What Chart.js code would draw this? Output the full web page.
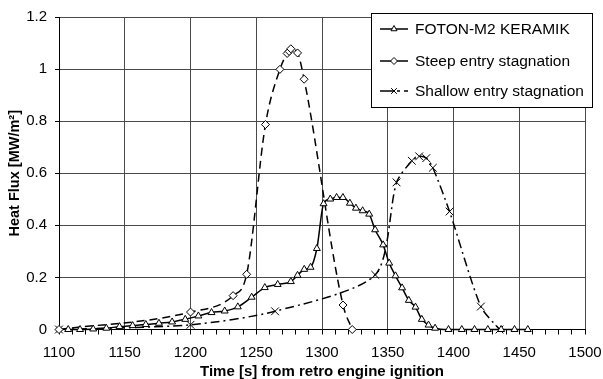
<!DOCTYPE html>
<html>
<head>
<meta charset="utf-8">
<title>Heat flux</title>
<script src="https://cdn.jsdelivr.net/npm/chart.js@4.4.1/dist/chart.umd.min.js"></script>
<style>
  html, body { margin: 0; padding: 0; background: #fff; }
  #wrap { width: 603px; height: 379px; position: relative; }
</style>
</head>
<body>
<div id="wrap"><canvas id="heatChart"></canvas></div>
<script>
// values
const seriesNames = ['FOTON-M2 KERAMIK', 'Steep entry stagnation', 'Shallow entry stagnation'];

const fotonTime = [1107, 1116, 1126, 1136, 1146, 1156, 1166, 1176, 1186, 1196,
    1206, 1216, 1226, 1236, 1246.5, 1256.5, 1266.3, 1276.3, 1281.4, 1286.5,
    1291.3, 1296.1, 1301.2, 1306.3, 1311.1, 1315.9, 1321.2, 1325.8, 1330.9, 1335.9,
    1340.4, 1346.5, 1351.1, 1355.9, 1360.9, 1366, 1371.1, 1375.9, 1381, 1386,
    1396.2, 1406.3, 1416, 1426.1, 1436.2, 1446.4, 1456.5];
const fotonFlux = [0, 0, 0.002, 0.005, 0.011, 0.015, 0.019, 0.024, 0.029, 0.039,
    0.052, 0.065, 0.071, 0.087, 0.124, 0.161, 0.173, 0.184, 0.208, 0.231,
    0.239, 0.311, 0.483, 0.501, 0.507, 0.507, 0.485, 0.466, 0.456, 0.443,
    0.383, 0.325, 0.255, 0.206, 0.16, 0.112, 0.086, 0.039, 0.017, 0.005,
    0, 0, 0, 0, 0, 0, 0];

const steepTime = [1100, 1200, 1232.4, 1242.7, 1257, 1268, 1273.5, 1275, 1276.3, 1281.4, 1286.4, 1316, 1323];
const steepFlux = [0, 0.067, 0.13, 0.212, 0.787, 0.999, 1.06, 1.068, 1.078, 1.062, 0.961, 0.094, 0];

const shallowTime = [1100, 1200, 1264.3, 1340.5, 1356.7, 1368.3, 1373.9, 1379.3, 1384.3, 1397, 1420.8, 1435];
const shallowFlux = [0, 0.018, 0.07, 0.21, 0.565, 0.648, 0.665, 0.658, 0.621, 0.453, 0.088, 0];

const xMin = 1100, xMax = 1500, xMajor = 50, xMinor = 10;
const yMin = 0, yMax = 1.2, yStep = 0.2;

const FONT = "'Liberation Sans', Arial, sans-serif";
const gridGray = '#4a4a4a';

function toPoints(xs, ys) {
    return xs.map((x, i) => ({ x: x, y: ys[i] }));
}

const markerStyles = ['triangle', 'rectRot', 'crossRot'];
const markerSizes = [4, 4, 5.5];
const dashStyles = [[], [8, 5], [9, 4, 2, 4]];

// legend drawn inside the plot, top right, like the original
const boxLegend = {
    id: 'boxLegend',
    afterDraw(chart) {
        const ctx = chart.ctx;
        const left = 371, top = 13, w = 221, h = 94;
        ctx.save();
        ctx.fillStyle = '#fff';
        ctx.fillRect(left, top, w, h);
        ctx.strokeStyle = '#000';
        ctx.lineWidth = 1;
        ctx.strokeRect(left + 0.5, top + 0.5, w, h);

        const rows = [29, 61, 91];
        seriesNames.forEach((name, i) => {
            const y = rows[i];
            ctx.strokeStyle = '#000';
            ctx.lineWidth = 1.5;
            ctx.setLineDash(i === 2 ? [13, 4, 3, 4] : []);
            ctx.beginPath();
            ctx.moveTo(380, y);
            ctx.lineTo(408, y);
            ctx.stroke();
            ctx.setLineDash([]);
            ctx.lineWidth = 1;
            ctx.fillStyle = '#fff';
            Chart.helpers.drawPoint(ctx, { pointStyle: markerStyles[i], radius: i === 2 ? 4 : 3.5, rotation: 0, borderWidth: 1 }, 394, y);
            ctx.fillStyle = '#000';
            ctx.font = '15.5px ' + FONT;
            ctx.textBaseline = 'middle';
            ctx.fillText(name, 415, y + 1);
        });
        ctx.restore();
    }
};

const pointSets = [
    toPoints(fotonTime, fotonFlux),
    toPoints(steepTime, steepFlux),
    toPoints(shallowTime, shallowFlux)
];

const config = {
    type: 'line',
    data: {
        datasets: pointSets.map((pts, i) => ({
            label: seriesNames[i],
            data: pts,
            borderColor: '#000',
            borderWidth: 1.5,
            borderDash: dashStyles[i],
            pointStyle: markerStyles[i],
            pointRadius: markerSizes[i],
            pointBorderWidth: 1,
            pointBorderColor: '#000',
            pointBackgroundColor: '#fff',
            cubicInterpolationMode: i === 2 ? 'default' : 'monotone',
            tension: 0.25,
            fill: false,
            clip: false
        }))
    },
    options: {
        responsive: true,
        maintainAspectRatio: false,
        animation: false,
        layout: { padding: { top: 17, right: 18, left: 0, bottom: 0 } },
        plugins: {
            legend: { display: false },
            tooltip: { enabled: false }
        },
        scales: {
            x: {
                type: 'linear',
                min: xMin,
                max: xMax,
                afterFit: s => {
                    s.height = 49.5;
                    s.paddingLeft = 0;
                    s.paddingRight = 0;
                },
                border: { color: '#000', width: 1 },
                grid: {
                    color: c => (c.tick && c.tick.value % xMajor === 0) ? gridGray : 'rgba(0,0,0,0)',
                    tickColor: '#000',
                    tickLength: 5
                },
                ticks: {
                    stepSize: xMinor,
                    autoSkip: false,
                    maxRotation: 0,
                    padding: 9,
                    color: '#000',
                    font: { family: FONT, size: 15 },
                    callback: v => (v % xMajor === 0 ? String(v) : '')
                },
                title: {
                    display: true,
                    text: 'Time [s] from retro engine ignition',
                    color: '#000',
                    font: { family: FONT, size: 15, weight: 'bold', lineHeight: 1 },
                    padding: { top: 0, bottom: 0 }
                }
            },
            y: {
                min: yMin,
                max: yMax,
                afterFit: s => { s.width = 59; },
                border: { color: '#000', width: 1 },
                grid: {
                    color: gridGray,
                    tickColor: '#000',
                    tickLength: 4
                },
                ticks: {
                    stepSize: yStep,
                    padding: 8,
                    color: '#000',
                    font: { family: FONT, size: 15 },
                    callback: v => String(Number(v.toFixed(1)))
                },
                title: {
                    display: true,
                    text: 'Heat Flux [MW/m²]',
                    color: '#000',
                    font: { family: FONT, size: 14.5, weight: 'bold', lineHeight: 1 },
                    padding: { top: 7.5, bottom: 0 }
                }
            }
        }
    },
    plugins: [boxLegend]
};

const ctx = document.getElementById('heatChart').getContext('2d');
new Chart(ctx, config);
</script>
</body>
</html>
